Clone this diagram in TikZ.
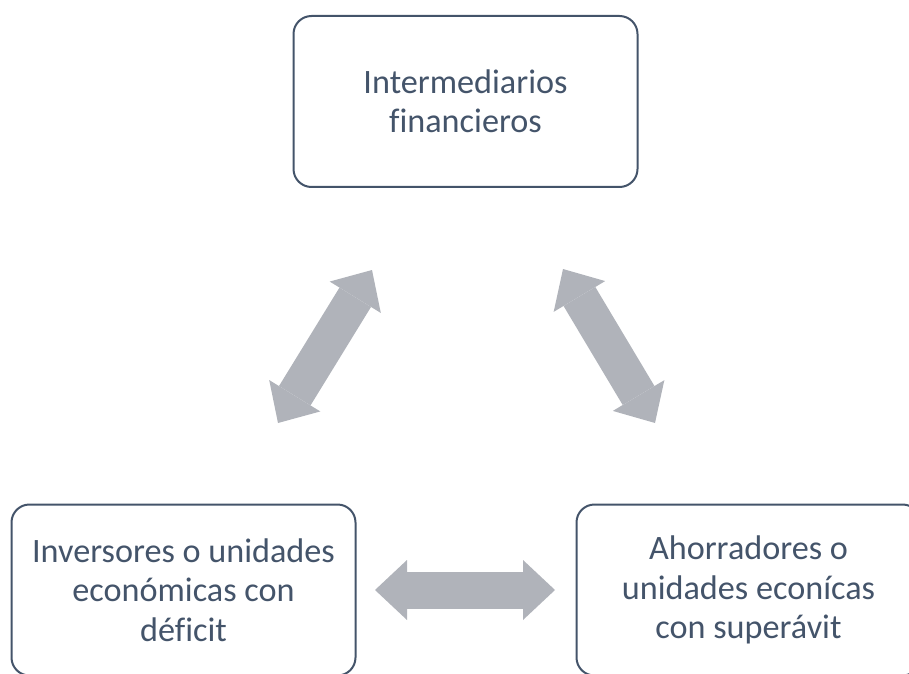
\documentclass[tikz,border=0pt]{standalone}
\usepackage{fontspec}
\setmainfont{Carlito}[Ligatures=NoCommon]
\usetikzlibrary{arrows.meta}
\definecolor{boxline}{HTML}{44546A}
\definecolor{txtcol}{HTML}{44546A}
\definecolor{arrowgray}{HTML}{B0B3BA}
\begin{document}
\begin{tikzpicture}[x=1pt,y=1pt,
  box/.style={draw=boxline, line width=2pt, rounded corners=18pt,
    minimum width=344pt, minimum height=171pt, inner sep=0pt,
    text=txtcol, align=center, font=\fontsize{34.2}{39.5}\selectfont},
  bigarrow/.style={draw=arrowgray, line width=37pt, line cap=butt,
    {Triangle[length=32pt,width=60pt,line width=0pt]}-{Triangle[length=32pt,width=60pt,line width=0pt]}}]
\useasboundingbox (0,0) rectangle (909,673);
\clip (0,0) rectangle (909,673);
\node[box] (top) at (465.5,571.5) {Intermediarios\\financieros};
\node[box] (left) at (183.5,83) {Inversores o unidades\\económicas con\\déficit};
\node[box] (right) at (748.5,83) {Ahorradores o\\unidades econícas\\con superávit};
\coordinate (aL1) at (278,250);
\coordinate (aL2) at (372,403);
\coordinate (aR1) at (563,404);
\coordinate (aR2) at (655,250);
\coordinate (aH1) at (375,83);
\coordinate (aH2) at (555,83);
\draw[bigarrow] (aL1) -- (aL2);
\draw[bigarrow] (aR1) -- (aR2);
\draw[bigarrow] (aH1) -- (aH2);
\end{tikzpicture}
\end{document}
